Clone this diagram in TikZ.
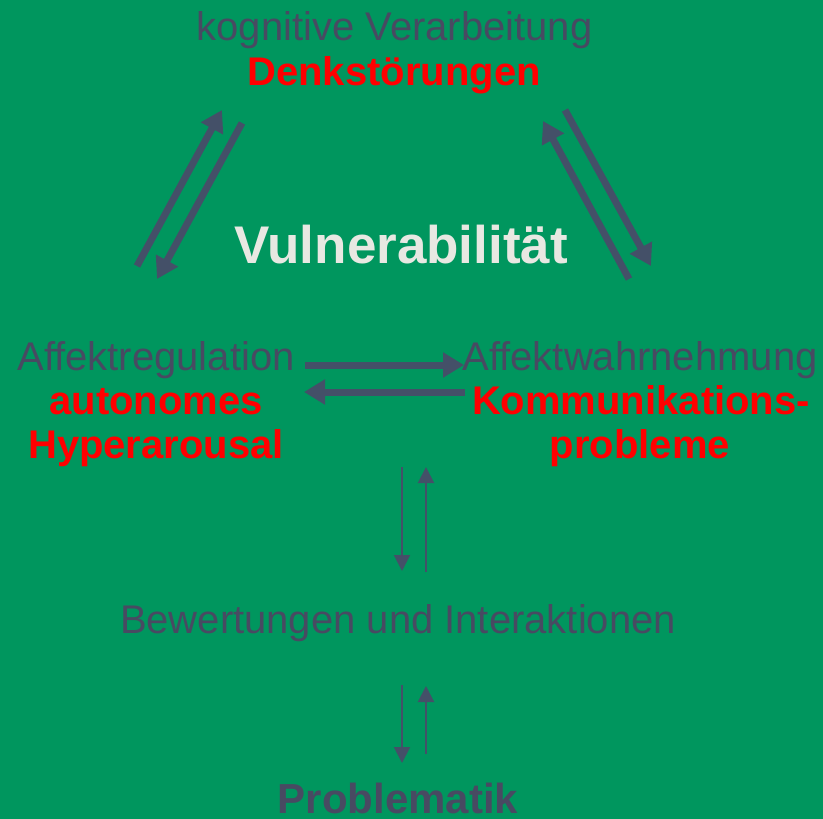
\documentclass[tikz,border=0pt]{standalone}
\usepackage{fontspec}
\setmainfont{Liberation Sans}
\usetikzlibrary{arrows.meta}
\definecolor{bg}{RGB}{0,150,94}
\definecolor{txtgray}{RGB}{72,74,98}
\definecolor{arrgray}{RGB}{68,80,104}
\definecolor{hl}{RGB}{255,0,0}
\definecolor{title}{RGB}{232,232,226}
\begin{document}
\begin{tikzpicture}[x=1pt,y=-1pt,
  lbl/.style={anchor=base,inner sep=0pt,font=\fontsize{40}{44}\selectfont,text=txtgray},
  red/.style={lbl,font=\fontsize{40}{44}\selectfont\bfseries,text=hl},
  thick arrow/.style={draw=arrgray,line width=7pt,-{Triangle[length=21pt,width=24pt]}},
  thin arrow/.style={draw=arrgray,line width=2pt,-{Triangle[length=16pt,width=16pt]}}]
\fill[bg] (0,0) rectangle (823,819);
\useasboundingbox (0,0) rectangle (823,819);
% texts
\node[lbl] (kog) at (394.5,41) {kognitive Verarbeitung};
\node[red] (denk) at (394,85) {Denkstörungen};
\node[lbl,font=\fontsize{53}{58}\selectfont\bfseries,text=title] (vul) at (401,263) {Vulnerabilität};
\node[lbl] (areg) at (156,370) {Affektregulation};
\node[red] (auto) at (156,414) {autonomes};
\node[red] (hyp) at (156,458) {Hyperarousal};
\node[lbl] (awahr) at (640,370) {Affektwahrnehmung};
\node[red] (komm) at (641,414) {Kommunikations-};
\node[red] (prob) at (640,458) {probleme};
\node[lbl] (bew) at (398,633) {Bewertungen und Interaktionen};
\node[lbl,font=\fontsize{42}{46}\selectfont\bfseries] (pm) at (398,813) {Problematik};
% arrow end points
\coordinate (l1s) at (137,266); \coordinate (l1e) at (222,110);
\coordinate (l2s) at (242,123); \coordinate (l2e) at (157,279);
\coordinate (r1s) at (565,110); \coordinate (r1e) at (651,266);
\coordinate (r2s) at (629,279); \coordinate (r2e) at (543,121);
\coordinate (h1s) at (305,365); \coordinate (h1e) at (464,365);
\coordinate (h2s) at (465,392); \coordinate (h2e) at (304,392);
\coordinate (v1s) at (402,467); \coordinate (v1e) at (402,571);
\coordinate (v2s) at (426,572); \coordinate (v2e) at (426,467);
\coordinate (w1s) at (402,685); \coordinate (w1e) at (402,763);
\coordinate (w2s) at (426,754); \coordinate (w2e) at (426,686);
% arrows
\draw[thick arrow] (l1s) -- (l1e);
\draw[thick arrow] (l2s) -- (l2e);
\draw[thick arrow] (r1s) -- (r1e);
\draw[thick arrow] (r2s) -- (r2e);
\draw[thick arrow] (h1s) -- (h1e);
\draw[thick arrow] (h2s) -- (h2e);
\draw[thin arrow] (v1s) -- (v1e);
\draw[thin arrow] (v2s) -- (v2e);
\draw[thin arrow] (w1s) -- (w1e);
\draw[thin arrow] (w2s) -- (w2e);
\end{tikzpicture}
\end{document}
